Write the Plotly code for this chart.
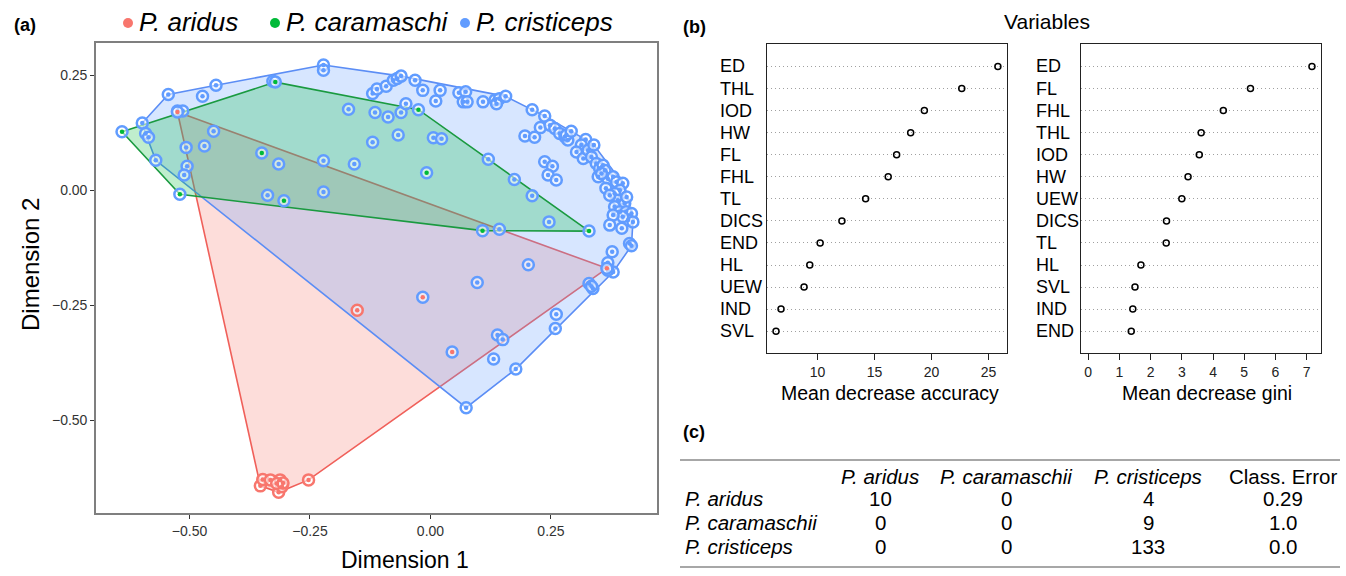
import plotly.graph_objects as go

W, H = 1346, 576
FONT = "Liberation Sans, Arial, Helvetica, sans-serif"

# ---------------- Panel (a): MDS of random-forest proximities ----------------
species = ["P. aridus", "P. caramaschi", "P. cristiceps"]
sp_colors = {"P. aridus": "#F8766D", "P. caramaschi": "#00BA38", "P. cristiceps": "#619CFF"}
hull_line = {"P. aridus": "#F0605A", "P. caramaschi": "#1A9A40", "P. cristiceps": "#5B8DF5"}
hull_fill = {"P. aridus": "rgba(248,118,109,0.25)", "P. caramaschi": "rgba(0,186,56,0.25)",
             "P. cristiceps": "rgba(97,156,255,0.25)"}

aridus_x = [-0.525, 0.366, -0.152, -0.016, 0.045, -0.353, -0.348, -0.332, -0.312, -0.315,
            -0.308, -0.319, -0.253, -0.306]
aridus_y = [0.170, -0.170, -0.261, -0.233, -0.352, -0.643, -0.629, -0.630, -0.630, -0.657,
            -0.645, -0.638, -0.630, -0.637]
aridus_pred = ["P. cristiceps", "P. cristiceps", "P. aridus", "P. cristiceps", "P. cristiceps",
               "P. aridus", "P. aridus", "P. aridus", "P. aridus", "P. aridus",
               "P. aridus", "P. aridus", "P. aridus", "P. aridus"]

caram_x = [-0.640, -0.322, -0.025, 0.329, 0.108, -0.520, -0.350, -0.304, -0.008]
caram_y = [0.127, 0.235, 0.175, -0.089, -0.088, -0.009, 0.081, -0.023, 0.038]
caram_pred = ["P. cristiceps", "P. cristiceps", "P. cristiceps", "P. cristiceps", "P. cristiceps",
              "P. cristiceps", "P. cristiceps", "P. cristiceps", "P. cristiceps"]

cris_x = [-0.598, -0.591, -0.585, -0.544, -0.473, -0.445, -0.525, -0.514, -0.450, -0.507,
          -0.469, -0.570, -0.505, -0.511, -0.315, -0.338, -0.222, -0.158, -0.222, -0.222,
          -0.222, -0.327, -0.170, -0.115, -0.120, -0.120, -0.111, -0.092, -0.077, -0.069,
          -0.061, -0.032, -0.016, 0.020, 0.011, 0.059, 0.073, 0.068, 0.076, 0.109,
          0.134, 0.143, 0.156, 0.137, -0.088, -0.061, -0.051, -0.067, 0.006, 0.023,
          0.120, 0.174, 0.211, 0.246, 0.143, 0.211, 0.237, 0.228, 0.248, 0.196,
          0.216, 0.258, 0.268, 0.279, 0.285, 0.282, 0.322, 0.313, 0.303, 0.317,
          0.327, 0.334, 0.344, 0.351, 0.358, 0.348, 0.362, 0.368, 0.379, 0.386,
          0.399, 0.393, 0.382, 0.364, 0.389, 0.403, 0.382, 0.393, 0.406, 0.417,
          0.410, 0.420, 0.399, 0.379, 0.372, 0.237, 0.253, 0.244, 0.261, 0.413,
          0.417, 0.377, 0.368, 0.379, 0.368, 0.329, 0.337, 0.334, 0.203, 0.097,
          0.261, 0.259, 0.139, 0.150, 0.131, 0.177, 0.074, 0.339, 0.372, 0.407,
          0.292, 0.355, 0.397]
cris_y = [0.146, 0.123, 0.115, 0.208, 0.204, 0.228, 0.172, 0.172, 0.128, 0.093,
          0.096, 0.065, 0.052, 0.033, 0.057, -0.011, 0.064, 0.057, -0.004, 0.272,
          0.261, 0.237, 0.176, 0.169, 0.104, 0.210, 0.220, 0.226, 0.239, 0.243,
          0.248, 0.239, 0.217, 0.217, 0.194, 0.212, 0.214, 0.192, 0.192, 0.192,
          0.196, 0.199, 0.204, 0.188, 0.159, 0.169, 0.188, 0.120, 0.114, 0.112,
          0.067, 0.023, -0.012, -0.069, -0.085, 0.175, 0.161, 0.136, 0.141, 0.118,
          0.115, 0.134, 0.123, 0.116, 0.109, 0.120, 0.110, 0.098, 0.083, 0.069,
          0.087, 0.072, 0.058, 0.047, 0.054, 0.029, 0.043, 0.025, 0.029, 0.018,
          0.015, 0.000, -0.007, 0.004, -0.022, -0.029, -0.036, -0.047, -0.047, -0.051,
          -0.065, -0.069, -0.058, -0.054, -0.076, 0.062, 0.052, 0.033, 0.022, -0.116,
          -0.121, -0.134, -0.158, -0.178, -0.174, -0.203, -0.214, -0.209, -0.162, -0.201,
          -0.270, -0.301, -0.315, -0.325, -0.367, -0.389, -0.473, 0.098, -0.011, -0.015,
          0.128, 0.036, -0.083]
assert len(cris_x) == len(cris_y)
cris_pred = ["P. cristiceps" for _ in cris_x]

groups = {
    "P. aridus": (aridus_x, aridus_y, aridus_pred),
    "P. caramaschi": (caram_x, caram_y, caram_pred),
    "P. cristiceps": (cris_x, cris_y, cris_pred),
}

# ---------------- Panel (b): variable importance ----------------
acc_vars = ["ED", "THL", "IOD", "HW", "FL", "FHL", "TL", "DICS", "END", "HL", "UEW", "IND", "SVL"]
acc_vals = [25.82, 22.65, 19.37, 18.17, 16.94, 16.20, 14.22, 12.14, 10.23, 9.32, 8.82, 6.80, 6.36]
gini_vars = ["ED", "FL", "FHL", "THL", "IOD", "HW", "UEW", "DICS", "TL", "HL", "SVL", "IND", "END"]
gini_vals = [7.17, 5.20, 4.33, 3.62, 3.56, 3.20, 3.00, 2.51, 2.50, 1.69, 1.50, 1.43, 1.38]
acc_ticks = [10, 15, 20, 25]
gini_ticks = [0, 1, 2, 3, 4, 5, 6, 7]

# ---------------- Panel (c): confusion matrix ----------------
table_cols = ["P. aridus", "P. caramaschii", "P. cristiceps", "Class. Error"]
table_rows = ["P. aridus", "P. caramaschii", "P. cristiceps"]
conf_matrix = [[10, 0, 4], [0, 0, 9], [0, 0, 133]]
class_error = ["0.29", "1.0", "0.0"]


def convex_hull(xs, ys):
    pts = sorted(set(zip(xs, ys)))
    def cross(o, a, b):
        return (a[0] - o[0]) * (b[1] - o[1]) - (a[1] - o[1]) * (b[0] - o[0])
    lower, upper = [], []
    for p in pts:
        while len(lower) >= 2 and cross(lower[-2], lower[-1], p) <= 0:
            lower.pop()
        lower.append(p)
    for p in reversed(pts):
        while len(upper) >= 2 and cross(upper[-2], upper[-1], p) <= 0:
            upper.pop()
        upper.append(p)
    h = lower[:-1] + upper[:-1]
    h.append(h[0])
    return [p[0] for p in h], [p[1] for p in h]


fig = go.Figure()

# hulls (red, blue, green order for overlap colours)
for sp in ["P. aridus", "P. cristiceps", "P. caramaschi"]:
    xs, ys, _ = groups[sp]
    hx, hy = convex_hull(xs, ys)
    fig.add_trace(go.Scatter(x=hx, y=hy, mode="lines", fill="toself",
                             fillcolor=hull_fill[sp],
                             line=dict(color=hull_line[sp], width=1.6),
                             showlegend=False, hoverinfo="skip",
                             xaxis="x", yaxis="y"))

# points: outer ring = predicted class, centre dot = true class
for sp in ["P. cristiceps", "P. caramaschi", "P. aridus"]:
    xs, ys, pred = groups[sp]
    fig.add_trace(go.Scatter(x=xs, y=ys, mode="markers",
                             marker=dict(size=11, color="rgba(255,255,255,0.55)",
                                         line=dict(color=[sp_colors[p] for p in pred], width=2.5)),
                             showlegend=False, hoverinfo="skip", xaxis="x", yaxis="y"))
    fig.add_trace(go.Scatter(x=xs, y=ys, mode="markers",
                             marker=dict(size=4.5, color=sp_colors[sp], line=dict(width=0)),
                             name=sp, showlegend=False, xaxis="x", yaxis="y"))

# dot charts
fig.add_trace(go.Scatter(x=acc_vals, y=acc_vars, mode="markers",
                         marker=dict(symbol="circle-open", size=6, color="black", line=dict(width=1.5)),
                         showlegend=False, xaxis="x2", yaxis="y2"))
fig.add_trace(go.Scatter(x=gini_vals, y=gini_vars, mode="markers",
                         marker=dict(symbol="circle-open", size=6, color="black", line=dict(width=1.5)),
                         showlegend=False, xaxis="x3", yaxis="y3"))

def px(x):
    return x / W

def py(y):
    return 1 - y / H

tickfont = dict(family=FONT, size=14, color="#333333")

fig.update_layout(
    width=W, height=H, margin=dict(l=0, r=0, t=0, b=0),
    paper_bgcolor="white", plot_bgcolor="white",
    font=dict(family=FONT, color="black"),
    xaxis=dict(domain=[px(96), px(657)], range=[-0.694, 0.470], anchor="y",
               tickvals=[-0.5, -0.25, 0, 0.25], tickformat=".2f",
               showgrid=False, zeroline=False, showline=True, mirror=True,
               linecolor="#7F7F7F", linewidth=1.6, ticks="outside", ticklen=4,
               tickcolor="#333333", tickfont=tickfont),
    yaxis=dict(domain=[py(513), py(43)], range=[-0.702, 0.320], anchor="x",
               tickvals=[-0.5, -0.25, 0, 0.25], tickformat=".2f",
               showgrid=False, zeroline=False, showline=True, mirror=True,
               linecolor="#7F7F7F", linewidth=1.6, ticks="outside", ticklen=4,
               tickcolor="#333333", tickfont=tickfont),
    xaxis2=dict(domain=[px(767), px(1007)], range=[5.57, 26.62], anchor="y2",
                tickvals=acc_ticks, showgrid=False, zeroline=False, showline=True, mirror=True,
                linecolor="#222222", linewidth=1.2, ticks="outside", ticklen=6,
                tickcolor="#222222", tickfont=dict(family=FONT, size=14, color="#222222")),
    yaxis2=dict(domain=[py(353), py(44)], anchor="x2", type="category",
                categoryorder="array", categoryarray=acc_vars[::-1], range=[-0.99, 13.02],
                showticklabels=False, ticks="", showgrid=True, griddash="1px,3px",
                gridcolor="#A0A0A0", gridwidth=1, zeroline=False, showline=True, mirror=True,
                linecolor="#222222", linewidth=1.2),
    xaxis3=dict(domain=[px(1081), px(1321)], range=[-0.23, 7.46], anchor="y3",
                tickvals=gini_ticks, showgrid=False, zeroline=False, showline=True, mirror=True,
                linecolor="#222222", linewidth=1.2, ticks="outside", ticklen=6,
                tickcolor="#222222", tickfont=dict(family=FONT, size=14, color="#222222")),
    yaxis3=dict(domain=[py(353), py(44)], anchor="x3", type="category",
                categoryorder="array", categoryarray=gini_vars[::-1], range=[-0.99, 13.02],
                showticklabels=False, ticks="", showgrid=True, griddash="1px,3px",
                gridcolor="#A0A0A0", gridwidth=1, zeroline=False, showline=True, mirror=True,
                linecolor="#222222", linewidth=1.2),
)

ann = []
def note(text, x, y, size, xanchor="center", yanchor="middle", xref="paper", yref="paper", **kw):
    ann.append(dict(text=text, x=x, y=y, xref=xref, yref=yref, xanchor=xanchor, yanchor=yanchor,
                    showarrow=False, font=dict(family=FONT, size=size, color=kw.get("color", "black")),
                    textangle=kw.get("textangle", 0)))

# panel letters
note("<b>(a)</b>", px(12), py(25), 18, xanchor="left")
note("<b>(b)</b>", px(681), py(27), 18, xanchor="left")
note("<b>(c)</b>", px(681), py(432), 18, xanchor="left")

# panel (a) legend
leg_pos = {"P. aridus": 128, "P. caramaschi": 275, "P. cristiceps": 465}
shapes = []
for sp in species:
    xc = leg_pos[sp]
    shapes.append(dict(type="circle", xref="paper", yref="paper",
                       x0=px(xc - 5), x1=px(xc + 5), y0=py(28), y1=py(18),
                       fillcolor=sp_colors[sp], line=dict(width=0)))
    note("<i>%s</i>" % sp, px(xc + 9), py(22), 26, xanchor="left")

# panel (a) axis titles
note("Dimension 1", px(405), py(560), 23)
note("Dimension 2", px(30), py(265), 24, textangle=-90)

# panel (b) titles
note("Variables", px(1047), py(22), 21)
note("Mean decrease accuracy", px(890), py(393), 19.5)
note("Mean decrease gini", px(1207), py(393), 19.5)
for v in acc_vars:
    note(v, px(718), v, 18, xanchor="left", yref="y2")
for v in gini_vars:
    note(v, px(1034), v, 18, xanchor="left", yref="y3")

# panel (c) table
col_x = [880, 1006, 1148, 1283]
row_y = [498, 522, 546]
for c, cx in zip(table_cols, col_x):
    label = c if c == "Class. Error" else "<i>%s</i>" % c
    note(label, px(cx), py(476), 20.5)
for r, ry, vals, err in zip(table_rows, row_y, conf_matrix, class_error):
    note("<i>%s</i>" % r, px(683), py(ry), 20.5, xanchor="left")
    for v, cx in zip(vals, col_x[:3]):
        note(str(v), px(cx), py(ry), 20.5)
    note(err, px(col_x[3]), py(ry), 20.5)
for yy in [460, 567]:
    shapes.append(dict(type="line", xref="paper", yref="paper", x0=px(680), x1=px(1340),
                       y0=py(yy), y1=py(yy), line=dict(color="#8A8A8A", width=1.5)))

fig.update_layout(annotations=ann, shapes=shapes)
fig.write_html("out.html", config={"displayModeBar": False},
               post_script="document.body.style.margin='0px';document.body.style.overflow='hidden';")
